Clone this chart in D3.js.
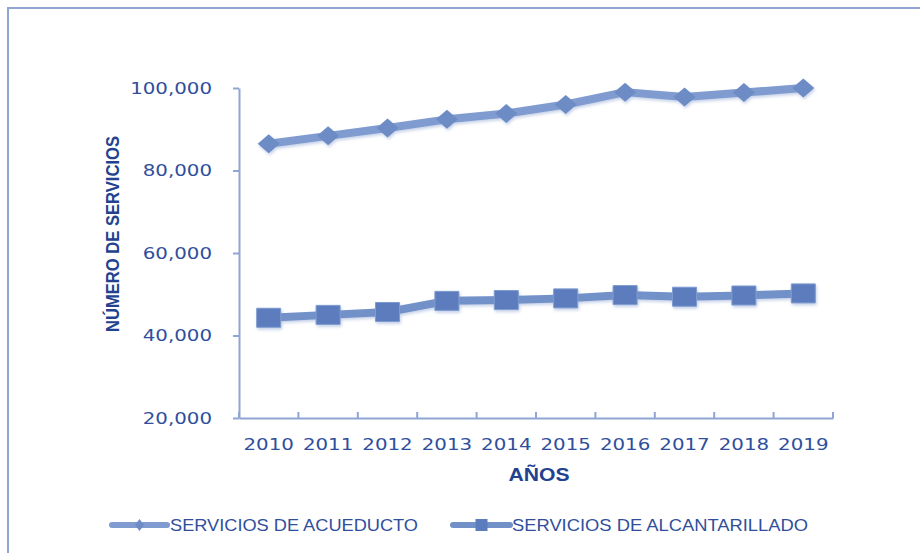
<!DOCTYPE html>
<html>
<head>
<meta charset="utf-8">
<script src="https://cdn.jsdelivr.net/npm/d3@7"></script>
<style>
  body { margin: 0; background: #fff; }
  svg { display: block; }
</style>
</head>
<body>
<script>
// datos
var years = ["2010", "2011", "2012", "2013", "2014", "2015", "2016", "2017", "2018", "2019"];
var acueducto = [86500, 88400, 90300, 92400, 93800, 96000, 99000, 97800, 98900, 100000];
var alcantarillado = [44300, 45000, 45700, 48400, 48600, 49000, 49800, 49400, 49700, 50200];
var yTicks = [20000, 40000, 60000, 80000, 100000];
var seriesNames = ["SERVICIOS DE ACUEDUCTO", "SERVICIOS DE ALCANTARILLADO"];

var width = 920, height = 553;
var stretch = 1.2;          // el original está estirado en horizontal
var axisColor = "#8fa6d2";
var textColor = "#2f4f9c";
var titleColor = "#22428f";

var svg = d3.select("body").append("svg")
    .attr("width", width)
    .attr("height", height);

// sombra suave de las series
var defs = svg.append("defs");
var f = defs.append("filter").attr("id", "sombra")
    .attr("x", "-20%").attr("y", "-50%").attr("width", "140%").attr("height", "200%");
f.append("feDropShadow")
    .attr("dx", 1).attr("dy", 2).attr("stdDeviation", 1.6)
    .attr("flood-color", "#5f7fc0").attr("flood-opacity", 0.35);

// marco
svg.append("path")
    .attr("d", "M8," + height + " V8 H" + width)
    .attr("fill", "none")
    .attr("stroke", axisColor)
    .attr("stroke-width", 2);

// escalas
var x = d3.scaleBand()
    .domain(years)
    .range([239, 833]);
var y = d3.scaleLinear()
    .domain([20000, 100000])
    .range([418, 88]);

// eje Y
var yAxis = svg.append("g")
    .attr("transform", "translate(" + x.range()[0] + ",0)")
    .call(d3.axisLeft(y).tickValues(yTicks).tickFormat(d3.format(",")).tickSize(6).tickSizeOuter(0));
yAxis.select(".domain").attr("stroke", axisColor).attr("stroke-width", 2);
yAxis.selectAll(".tick line").attr("stroke", axisColor).attr("stroke-width", 2);
yAxis.selectAll(".tick text")
    .attr("x", 0)
    .attr("transform", "translate(-27,0) scale(" + stretch + ",1)")
    .attr("fill", textColor)
    .style("font-family", "'DejaVu Sans', Verdana, sans-serif")
    .style("font-size", "16.5px");

// eje X
var xAxis = svg.append("g")
    .attr("transform", "translate(0," + y.range()[0] + ")")
    .call(d3.axisBottom(x).tickSize(0).tickPadding(19));
xAxis.select(".domain").attr("stroke", axisColor).attr("stroke-width", 2);
xAxis.selectAll(".tick text")
    .attr("y", 0)
    .attr("dy", "0")
    .attr("transform", "translate(0,32) scale(" + stretch + ",1)")
    .attr("fill", textColor)
    .style("font-family", "'DejaVu Sans', Verdana, sans-serif")
    .style("font-size", "16.5px");
// marcas entre categorías (hacia arriba)
var bounds = years.map(function(d) { return x(d); }).concat([x.range()[1]]);
xAxis.selectAll("line.limite")
    .data(bounds)
    .enter().append("line")
    .attr("class", "limite")
    .attr("x1", function(d) { return d; })
    .attr("x2", function(d) { return d; })
    .attr("y1", 0)
    .attr("y2", -6)
    .attr("stroke", axisColor)
    .attr("stroke-width", 2);

// títulos de ejes
svg.append("text")
    .attr("transform", "translate(119,234) rotate(-90)")
    .attr("text-anchor", "middle")
    .attr("textLength", 196)
    .attr("lengthAdjust", "spacingAndGlyphs")
    .attr("fill", titleColor)
    .style("font-family", "'Liberation Sans Narrow', 'Liberation Sans', Arial, sans-serif")
    .style("font-weight", "bold")
    .style("font-size", "19px")
    .text("NÚMERO DE SERVICIOS");

svg.append("text")
    .attr("x", 539)
    .attr("y", 481)
    .attr("text-anchor", "middle")
    .attr("textLength", 61)
    .attr("lengthAdjust", "spacingAndGlyphs")
    .attr("fill", titleColor)
    .style("font-family", "'Liberation Sans Narrow', 'Liberation Sans', Arial, sans-serif")
    .style("font-weight", "bold")
    .style("font-size", "18px")
    .text("AÑOS");

// series
var cx = function(d, i) { return x(years[i]) + x.bandwidth() / 2; };
var line = d3.line()
    .x(function(d, i) { return cx(d, i); })
    .y(function(d) { return y(d); });

var series = [
  { name: seriesNames[0], values: acueducto, line: "#7f9bcf", marker: "#6d8bc5", shape: "diamond" },
  { name: seriesNames[1], values: alcantarillado, line: "#7391c9", marker: "#5b7cbd", shape: "square" }
];

function markerPath(shape, w, h) {
  if (shape === "diamond") {
    return "M0," + (-h) + " L" + w + ",0 L0," + h + " L" + (-w) + ",0 Z";
  }
  return "M" + (-w) + "," + (-h) + " H" + w + " V" + h + " H" + (-w) + " Z";
}

series.forEach(function(s) {
  var g = svg.append("g").attr("filter", "url(#sombra)");
  g.append("path")
    .datum(s.values)
    .attr("d", line)
    .attr("fill", "none")
    .attr("stroke", s.line)
    .attr("stroke-width", 8)
    .attr("stroke-linejoin", "round");
  g.selectAll("path.marca")
    .data(s.values)
    .enter().append("path")
    .attr("class", "marca")
    .attr("transform", function(d, i) { return "translate(" + cx(d, i) + "," + y(d) + ")"; })
    .attr("d", s.shape === "diamond" ? markerPath("diamond", 11, 9.5) : markerPath("square", 12, 9.5))
    .attr("fill", s.marker)
    .attr("stroke", s.shape === "square" ? "#7f9bd0" : "none")
    .attr("stroke-width", 1);
});

// leyenda
var legendPos = [
  { x0: 112, x1: 167, tx: 170, len: 248 },
  { x0: 453, x1: 510, tx: 512, len: 296 }
];
series.forEach(function(s, i) {
  var p = legendPos[i];
  var lg = svg.append("g");
  lg.append("line")
    .attr("x1", p.x0).attr("x2", p.x1)
    .attr("y1", 525).attr("y2", 525)
    .attr("stroke", s.line)
    .attr("stroke-width", 6)
    .attr("stroke-linecap", "round");
  lg.append("path")
    .attr("transform", "translate(" + (p.x0 + p.x1) / 2 + ",525)")
    .attr("d", s.shape === "diamond" ? markerPath("diamond", 4.5, 6) : markerPath("square", 6, 6))
    .attr("fill", s.marker);
  lg.append("text")
    .attr("x", p.tx)
    .attr("y", 531)
    .attr("textLength", p.len)
    .attr("lengthAdjust", "spacingAndGlyphs")
    .attr("fill", textColor)
    .style("font-family", "'Liberation Sans Narrow', 'Liberation Sans', Arial, sans-serif")
    .style("font-size", "17px")
    .text(s.name);
});
</script>
</body>
</html>
